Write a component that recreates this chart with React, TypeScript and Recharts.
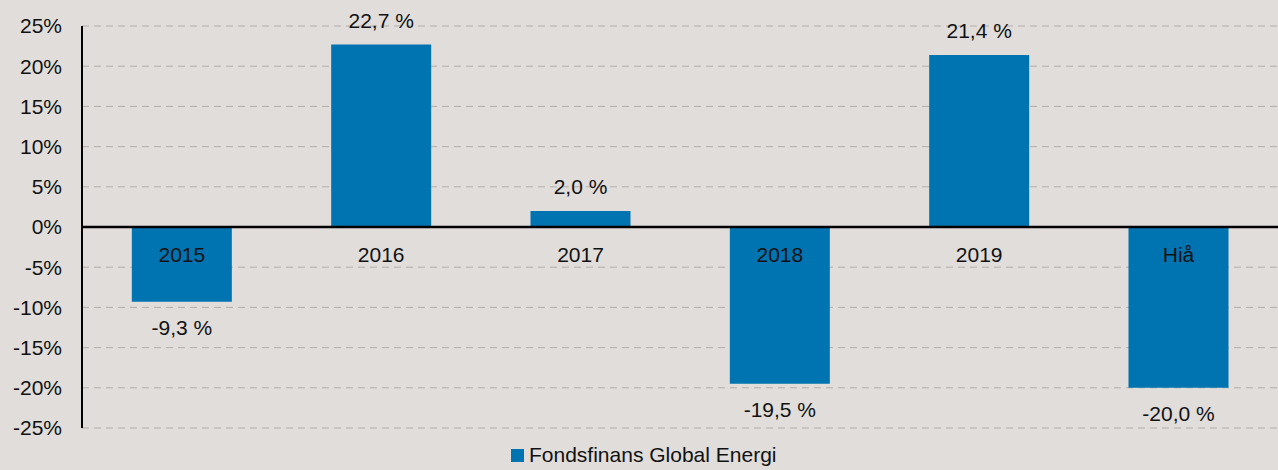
import { BarChart, Bar, XAxis, YAxis, CartesianGrid, ReferenceLine, LabelList } from 'recharts'

const categories = ['2015', '2016', '2017', '2018', '2019', 'Hiå']
const returns = [-9.3, 22.7, 2.0, -19.5, 21.4, -20.0]
const yTicks = [-25, -20, -15, -10, -5, 0, 5, 10, 15, 20, 25]
const seriesName = 'Fondsfinans Global Energi'

const data = categories.map((c, i) => ({ name: c, value: returns[i] }))

const BLUE = '#0073b1'
const BG = '#e0dddb'
const FONT = '"Liberation Sans", Arial, sans-serif'

function fmtPct(v: number) {
  return `${v.toFixed(1).replace('.', ',')} %`
}

function ValueLabel(props: any) {
  const { x, y, width, height, value } = props
  const top = Math.min(y, y + height)
  const bottom = Math.max(y, y + height)
  const cx = x + width / 2
  const ty = value >= 0 ? top - 24 : bottom + 26
  return (
    <text x={cx} y={ty} textAnchor="middle" dominantBaseline="central" fontSize={21} fill="#111" fontFamily={FONT}>
      {fmtPct(value)}
    </text>
  )
}

function CategoryLabel(props: any) {
  const { x, y, width, height, index } = props
  const v = returns[index]
  const zero = v >= 0 ? Math.max(y, y + height) : Math.min(y, y + height)
  return (
    <text x={x + width / 2} y={zero + 27} textAnchor="middle" dominantBaseline="central" fontSize={21} fill="#111" fontFamily={FONT}>
      {categories[index]}
    </text>
  )
}

export default function App() {
  return (
    <div style={{ position: 'absolute', left: 0, top: 0, width: 1278, height: 470, background: BG }}>
      <BarChart
        width={1278}
        height={470}
        data={data}
        margin={{ top: 26, right: 0, left: 0, bottom: 42 }}
        barCategoryGap="25%"
      >
        <CartesianGrid stroke="#b3adaa" strokeDasharray="7 5" vertical={false} />
        <XAxis dataKey="name" hide />
        <YAxis
          domain={[-25, 25]}
          ticks={yTicks}
          interval={0}
          width={82}
          tickSize={0}
          tickMargin={20}
          tickFormatter={(v: number) => `${v}%`}
          tick={{ fill: '#111', fontSize: 21, fontFamily: FONT }}
          axisLine={{ stroke: '#000', strokeWidth: 2 }}
          tickLine={false}
        />
        <Bar dataKey="value" fill={BLUE} isAnimationActive={false}>
          <LabelList dataKey="value" content={ValueLabel} />
          <LabelList dataKey="name" content={CategoryLabel} />
        </Bar>
        <ReferenceLine y={0} stroke="#000" strokeWidth={2.5} />
      </BarChart>
      <div
        style={{
          position: 'absolute',
          left: 511,
          top: 443,
          display: 'flex',
          alignItems: 'center',
          fontFamily: FONT,
          fontSize: 21,
          color: '#111',
          whiteSpace: 'nowrap',
        }}
      >
        <span style={{ display: 'inline-block', width: 13, height: 13, background: BLUE, marginRight: 5 }} />
        {seriesName}
      </div>
    </div>
  )
}
